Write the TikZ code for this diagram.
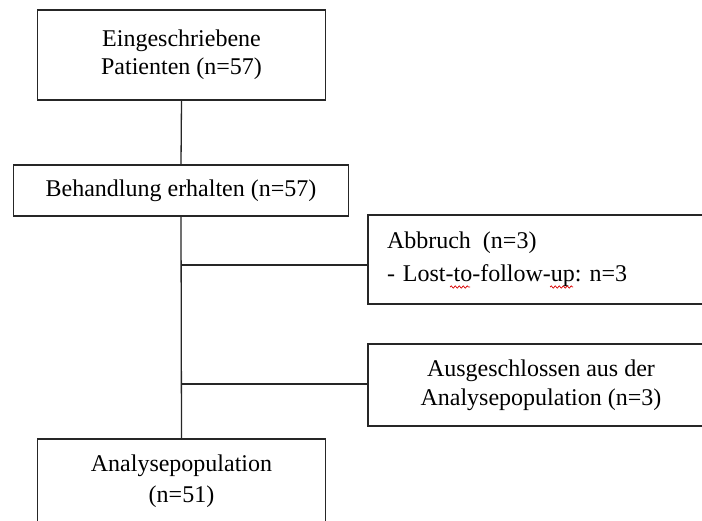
\documentclass[tikz,border=0pt]{standalone}
\usepackage{fontspec}
\setmainfont{Liberation Serif}
\usetikzlibrary{decorations.pathmorphing}
\frenchspacing
\begin{document}
\begin{tikzpicture}[x=1pt,y=-1pt,
  box/.style={draw=black!85, line width=1.3pt, rectangle, inner sep=0pt, font=\fontsize{24}{28}\selectfont, align=center},
  link/.style={draw=black!85, line width=1.3pt},
  spell/.style={draw=red!85!black, line width=0.7pt, decorate, decoration={snake, amplitude=1.1pt, segment length=4pt}}]
\clip (0,0) rectangle (702,520);
\fill[white] (0,0) rectangle (702,520);
\node[box, minimum width=288pt, minimum height=90pt] (b1) at (181.5,55) {Eingeschriebene\\Patienten (n=57)};
\node[box, minimum width=335pt, minimum height=51pt] (b2) at (181,190.5) {Behandlung erhalten (n=57)};
\node[box, minimum width=346pt, minimum height=89pt, text width=308pt, align=left, font=\fontsize{24}{33}\selectfont] (b3) at (541,259.5) {Abbruch\hspace{12pt}(n=3)\\- Lost-to-follow-up: n=3};
\node[box, minimum width=346pt, minimum height=82pt, font=\fontsize{24}{29}\selectfont] (b5) at (541,385) {Ausgeschlossen aus der\\Analysepopulation (n=3)};
\node[box, minimum width=288pt, minimum height=85pt, font=\fontsize{24}{31}\selectfont] (b4) at (181.5,481.5) {Analysepopulation\\(n=51)};
\coordinate (j1) at (181.5,265);
\coordinate (j2) at (181.5,384);
\draw[link] (b1.south) -- (b2.north);
\draw[link] (b2.south) -- (b4.north);
\draw[link] (j1) -- (j1 -| b3.west);
\draw[link] (j2) -- (j2 -| b5.west);
\draw[spell] (450,287) -- (470,287);
\draw[spell] (550,287) -- (573,287);
\end{tikzpicture}
\end{document}
